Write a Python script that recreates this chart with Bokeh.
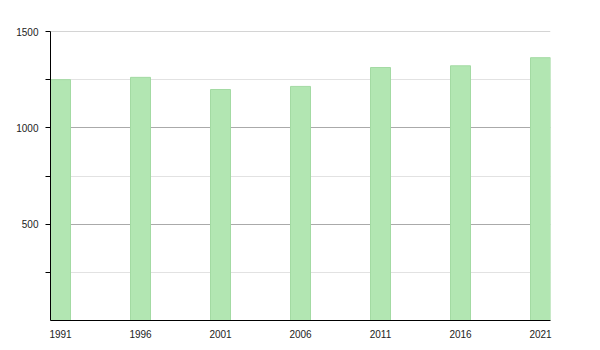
from bokeh.plotting import figure
from bokeh.models import FixedTicker, Range1d, Span
from bokeh.embed import file_html
from bokeh.resources import INLINE

years = ["1991", "1996", "2001", "2006", "2011", "2016", "2021"]
population = [1250, 1262, 1199, 1215, 1313, 1322, 1364]
y_major = [500, 1000, 1500]
y_minor = [250, 750, 1250]

xs = list(range(len(years)))

p = figure(width=600, height=350, output_backend="svg", toolbar_location=None,
           x_range=Range1d(-0.125, len(years) - 1 + 0.125), y_range=Range1d(0, 1500),
           min_border_left=50, min_border_right=50, min_border_top=31, min_border_bottom=30)
p.outline_line_color = None
p.background_fill_color = "white"
p.border_fill_color = "white"

p.add_layout(Span(location=1500, dimension="width", line_color="#aaaaaa", line_width=1, level="underlay"))

p.vbar(x=xs, top=population, width=0.25, bottom=0,
       fill_color="#b2e6b2", line_color="#a3daa3", line_width=1)

p.xaxis.ticker = FixedTicker(ticks=xs)
p.xaxis.major_label_overrides = {i: y for i, y in enumerate(years)}
p.xaxis.major_tick_line_color = None
p.xaxis.minor_tick_line_color = None
p.xaxis.major_label_standoff = 3
p.xgrid.visible = False

p.yaxis.ticker = FixedTicker(ticks=y_major, minor_ticks=y_minor)
p.yaxis.major_tick_out = 5
p.yaxis.major_tick_in = 0
p.yaxis.minor_tick_out = 5
p.yaxis.minor_tick_in = 0
p.yaxis.major_label_standoff = 7
p.ygrid.grid_line_color = "#aaaaaa"
p.ygrid.minor_grid_line_color = "#e2e2e2"

for ax in (p.xaxis, p.yaxis):
    ax.axis_line_color = "black"
    ax.major_label_text_font = "Liberation Sans"
    ax.major_label_text_font_size = "10px"
    ax.major_label_text_color = "#222222"
p.yaxis.major_tick_line_color = "black"
p.yaxis.minor_tick_line_color = "black"

open("out.html", "w").write(file_html(p, INLINE))
